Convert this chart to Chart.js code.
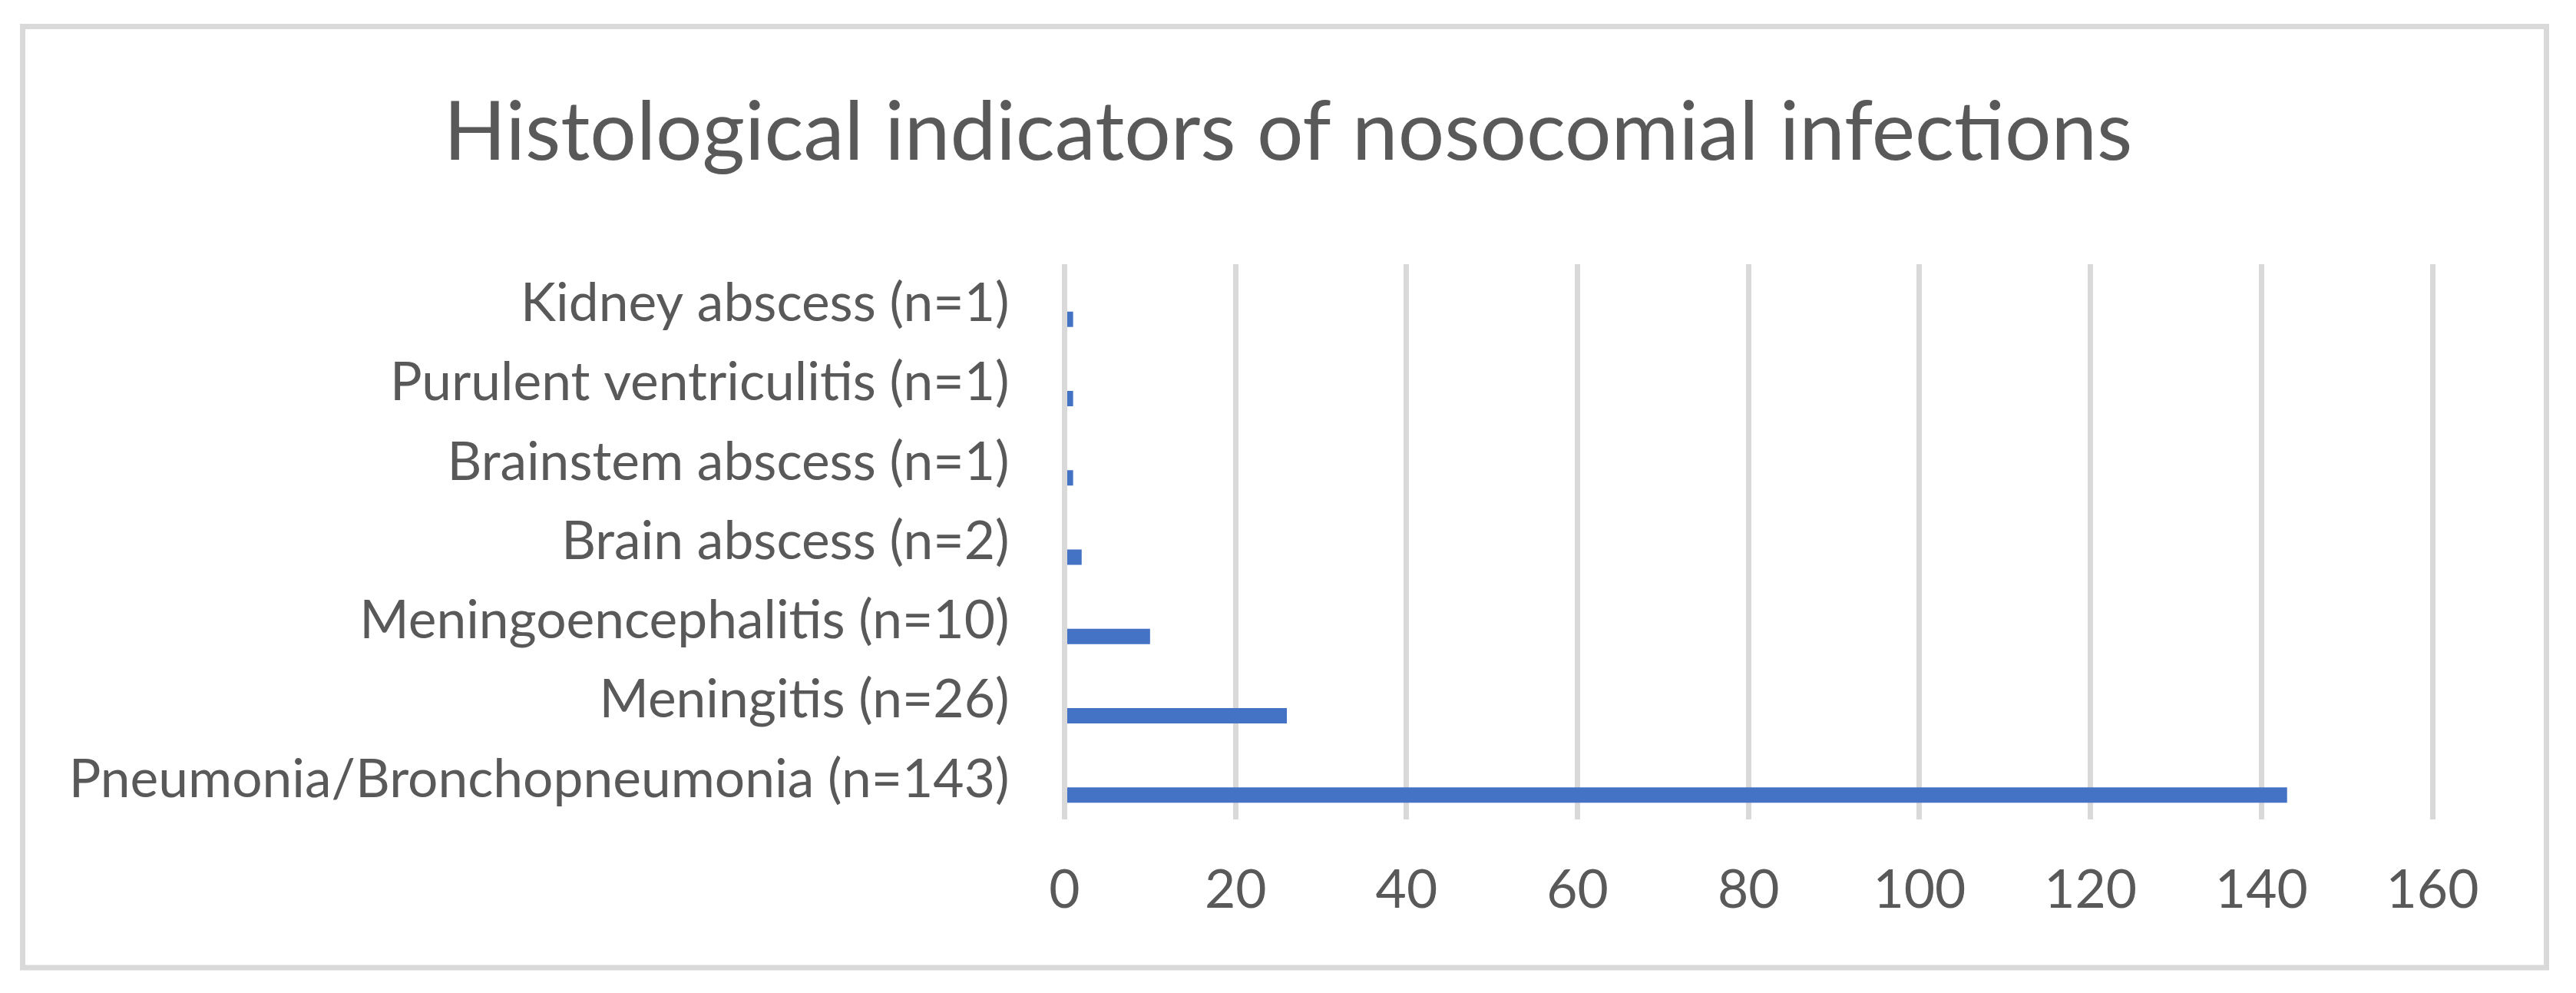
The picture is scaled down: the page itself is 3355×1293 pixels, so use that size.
<!DOCTYPE html>
<html>
<head>
<meta charset="utf-8">
<script src="https://cdn.jsdelivr.net/npm/chart.js@4.4.0/dist/chart.umd.min.js"></script>
<style>
html,body{margin:0;padding:0;background:#ffffff;}
canvas{display:block;}
</style>
</head>
<body>
<canvas id="c" width="3355" height="1293"></canvas>
<script>
// ---- data ----
const chartTitle = 'Histological indicators of nosocomial infections';
const categories = [
  'Kidney abscess (n=1)',
  'Purulent ventriculitis (n=1)',
  'Brainstem abscess (n=1)',
  'Brain abscess (n=2)',
  'Meningoencephalitis (n=10)',
  'Meningitis (n=26)',
  'Pneumonia/Bronchopneumonia (n=143)'
];
const counts = [1, 1, 1, 2, 10, 26, 143];
const emptySeries = [null, null, null, null, null, null, null];
const xMin = 0;
const xMax = 160;
const xStep = 20;

// ---- style ----
const FONT = 'Lato';
const TEXT = '#595959';
const GRID = '#d9d9d9';
const BAR = '#4472C4';

function fitSize(text, target) {
  const ctx = document.createElement('canvas').getContext('2d');
  ctx.font = '100px ' + FONT;
  return 100 * target / ctx.measureText(text).width;
}

const frame = {
  id: 'frame',
  beforeDraw(chart) {
    const ctx = chart.ctx;
    ctx.save();
    ctx.fillStyle = '#ffffff';
    ctx.fillRect(0, 0, chart.width, chart.height);
    ctx.strokeStyle = GRID;
    ctx.lineWidth = 7;
    ctx.strokeRect(29.5, 34.5, 3287, 1225.5);
    ctx.restore();
  }
};

function build() {
  const titleSize = fitSize(chartTitle, 2200);
  const labelSize = fitSize(categories[6], 1225);
  const titleTop = 170.5 - 0.574 * titleSize;
  const titleBottom = 344 - titleTop - 1.2 * titleSize;
  const xPad = 1160 - 1067 - 0.6 * labelSize;

  new Chart(document.getElementById('c'), {
    type: 'bar',
    data: {
      labels: categories,
      datasets: [
        { label: 'a', data: emptySeries, backgroundColor: BAR },
        { label: 'b', data: emptySeries, backgroundColor: BAR },
        { label: 'Cases', data: counts, backgroundColor: BAR, borderWidth: 0 }
      ]
    },
    options: {
      indexAxis: 'y',
      responsive: false,
      animation: false,
      devicePixelRatio: 1,
      categoryPercentage: 0.581,
      barPercentage: 1.0,
      layout: { padding: { left: 0, right: 0, top: 0, bottom: 0 } },
      plugins: {
        legend: { display: false },
        tooltip: { enabled: false },
        title: {
          display: true,
          text: chartTitle,
          color: TEXT,
          font: { family: FONT, size: titleSize, weight: 'normal', lineHeight: 1.2 },
          padding: { top: titleTop, bottom: titleBottom }
        }
      },
      scales: {
        x: {
          type: 'linear',
          position: 'bottom',
          min: xMin,
          max: xMax,
          ticks: {
            stepSize: xStep,
            color: TEXT,
            padding: xPad,
            font: { family: FONT, size: labelSize, lineHeight: 1.2 }
          },
          grid: { color: GRID, lineWidth: 7, drawTicks: false },
          border: { display: false },
          afterFit(scale) { scale.height = 226; }
        },
        y: {
          type: 'category',
          position: 'left',
          ticks: {
            color: TEXT,
            padding: 72,
            font: { family: FONT, size: labelSize, lineHeight: 1.2 }
          },
          grid: { display: false, drawTicks: false },
          border: { display: false },
          afterFit(scale) { scale.width = 1386.5; }
        },
        yRight: {
          type: 'category',
          position: 'right',
          ticks: { display: false },
          grid: { display: false, drawTicks: false },
          border: { display: false },
          afterFit(scale) { scale.width = 187; }
        }
      }
    },
    plugins: [frame]
  });
}

if (document.fonts && document.fonts.load) {
  document.fonts.load('100px ' + FONT).then(build, build);
} else {
  build();
}
</script>
</body>
</html>
